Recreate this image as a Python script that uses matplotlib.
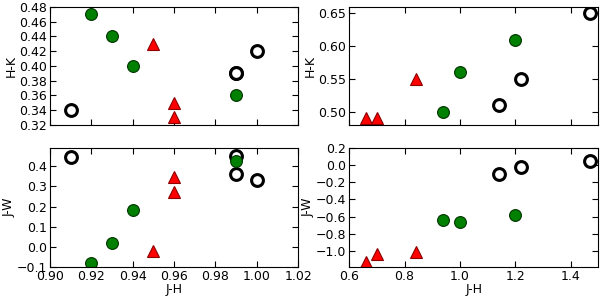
import matplotlib
matplotlib.use('Agg')
import matplotlib.pyplot as plt

# left panels (J-H, H-K, J-W)
l_open_jh = [0.91, 0.99, 0.99, 1.00]
l_open_hk = [0.34, 0.39, 0.39, 0.42]
l_open_jw = [0.445, 0.45, 0.363, 0.332]
l_green_jh = [0.92, 0.93, 0.94, 0.99]
l_green_hk = [0.47, 0.44, 0.40, 0.36]
l_green_jw = [-0.079, 0.02, 0.182, 0.425]
l_red_jh = [0.95, 0.96, 0.96]
l_red_hk = [0.43, 0.349, 0.33]
l_red_jw = [-0.022, 0.349, 0.27]

# right panels
r_open_jh = [1.14, 1.22, 1.47]
r_open_hk = [0.51, 0.55, 0.65]
r_open_jw = [-0.10, -0.02, 0.047]
r_green_jh = [0.94, 1.00, 1.20]
r_green_hk = [0.50, 0.56, 0.61]
r_green_jw = [-0.64, -0.66, -0.58]
r_red_jh = [0.66, 0.70, 0.84]
r_red_hk = [0.49, 0.49, 0.55]
r_red_jw = [-1.13, -1.04, -1.02]

fig = plt.figure(figsize=(6, 2.98), dpi=100)
fs = 9

def draw(ax, oj, oy, gj, gy, rj, ry):
    # open circles first, green drawn over them
    ax.plot(oj, oy, 'o', markerfacecolor='white', markeredgecolor='black', markeredgewidth=2.2, markersize=8.5, ls='none')
    ax.plot(gj, gy, 'o', color='green', markeredgecolor='#003300', markeredgewidth=0.8, markersize=8.5, ls='none')
    ax.plot(rj, ry, '^', color='red', markeredgecolor='#8b0000', markeredgewidth=0.8, markersize=9, ls='none')
    ax.tick_params(direction='in', top=True, right=True, labelsize=fs, length=4, pad=2)

ax1 = fig.add_axes([0.083, 0.581, 0.414, 0.396])
draw(ax1, l_open_jh, l_open_hk, l_green_jh, l_green_hk, l_red_jh, l_red_hk)
ax1.set_xlim(0.90, 1.02)
ax1.set_ylim(0.32, 0.48)
ax1.set_yticks([0.32, 0.34, 0.36, 0.38, 0.40, 0.42, 0.44, 0.46, 0.48])
ax1.set_xticks([0.90, 0.92, 0.94, 0.96, 0.98, 1.00, 1.02])
ax1.set_xticklabels([])
ax1.set_ylabel('H-K', fontsize=fs, labelpad=1)

ax2 = fig.add_axes([0.582, 0.581, 0.415, 0.396])
draw(ax2, r_open_jh, r_open_hk, r_green_jh, r_green_hk, r_red_jh, r_red_hk)
ax2.set_xlim(0.6, 1.5)
ax2.set_ylim(0.48, 0.66)
ax2.set_yticks([0.50, 0.55, 0.60, 0.65])
ax2.set_xticks([0.6, 0.8, 1.0, 1.2, 1.4])
ax2.set_xticklabels([])
ax2.set_ylabel('H-K', fontsize=fs, labelpad=1)

ax3 = fig.add_axes([0.083, 0.104, 0.414, 0.399])
draw(ax3, l_open_jh, l_open_jw, l_green_jh, l_green_jw, l_red_jh, l_red_jw)
ax3.set_xlim(0.90, 1.02)
ax3.set_ylim(-0.1, 0.49)
ax3.set_yticks([-0.1, 0.0, 0.1, 0.2, 0.3, 0.4])
ax3.set_xticks([0.90, 0.92, 0.94, 0.96, 0.98, 1.00, 1.02])
ax3.set_xticklabels(['0.90', '0.92', '0.94', '0.96', '0.98', '1.00', '1.02'])
ax3.set_xlabel('J-H', fontsize=fs, labelpad=0)
ax3.set_ylabel('J-W', fontsize=fs, labelpad=1)

ax4 = fig.add_axes([0.582, 0.104, 0.415, 0.399])
draw(ax4, r_open_jh, r_open_jw, r_green_jh, r_green_jw, r_red_jh, r_red_jw)
ax4.set_xlim(0.6, 1.5)
ax4.set_ylim(-1.19, 0.2)
ax4.set_yticks([-1.0, -0.8, -0.6, -0.4, -0.2, 0.0, 0.2])
ax4.set_xticks([0.6, 0.8, 1.0, 1.2, 1.4])
ax4.set_xlabel('J-H', fontsize=fs, labelpad=0)
ax4.set_ylabel('J-W', fontsize=fs, labelpad=1)

plt.savefig('out.png', dpi=100)
plt.close()
